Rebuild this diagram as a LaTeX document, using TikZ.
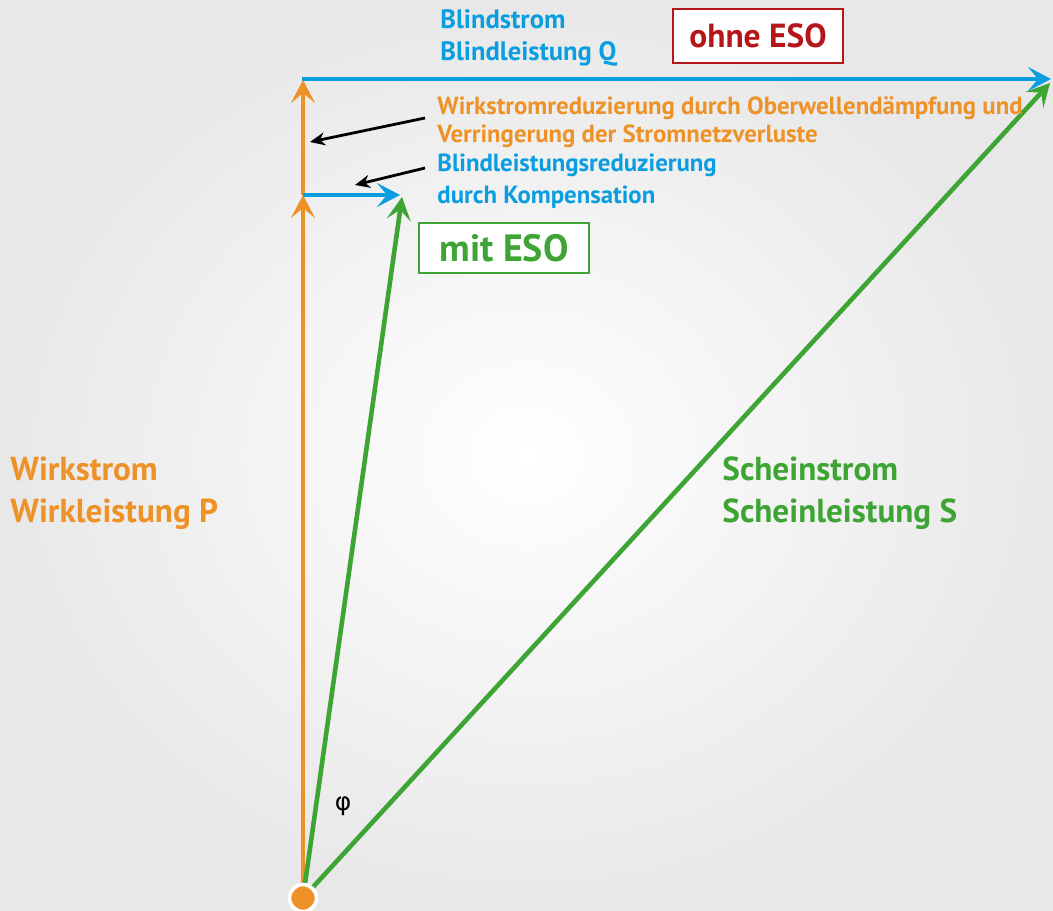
\documentclass[tikz,border=0pt]{standalone}
\usepackage{fontspec}
\setmainfont{PT Sans}
\newfontfamily\greekfont{DejaVu Sans}
\definecolor{wirkorange}{RGB}{238, 146, 40}
\definecolor{blindblue}{RGB}{10, 157, 224}
\definecolor{scheingreen}{RGB}{62, 165, 53}
\definecolor{ohnered}{RGB}{181, 22, 27}
\usetikzlibrary{arrows.meta, positioning, shadings}

\begin{document}
\begin{tikzpicture}[x=0.5pt, y=-0.5pt,
    vec/.style={line width=2.3pt, -{Stealth[length=11.5pt, width=12pt, inset=5pt]}},
    hint/.style={line width=1.4pt, -{Stealth[length=7.5pt, width=6.5pt]}},
    lbl/.style={font=\bfseries\fontsize{16.6}{20}\selectfont, anchor=west, inner sep=0pt},
    small/.style={font=\bfseries\fontsize{12.4}{14}\selectfont, anchor=west, inner sep=0pt}]
    \useasboundingbox (0,0) rectangle (1053,910);
    \shade[inner color=white, outer color=black!9] (0,0) rectangle (1053,910);
    \coordinate (O) at (303,898);
    \coordinate (P1) at (303,195);
    \coordinate (P2) at (303,80);
    \coordinate (Qend) at (1051,79);
    \coordinate (K) at (400,195);
    \coordinate (S1) at (402,197);
    \coordinate (S2) at (1050,83);
    \draw[vec, wirkorange] (O) -- (P1);
    \draw[vec, wirkorange] (P1) -- (P2);
    \draw[vec, blindblue] (302,79) -- (Qend);
    \draw[vec, blindblue] (P1) -- (K);
    \draw[vec, scheingreen] (O) -- (S1);
    \draw[vec, scheingreen] (O) -- (S2);
    \node[circle, fill=wirkorange, draw=white, line width=1.8pt, minimum size=13.5pt, inner sep=0pt] (dot) at (O) {};
    \node[lbl, blindblue, align=left, font=\bfseries\fontsize{13.3}{16}\selectfont] (blind) at (440,38) {Blindstrom\\Blindleistung Q};
    \node[draw=ohnered, line width=0.8pt, fill=white, minimum width=85pt, minimum height=27pt, text=ohnered,
          font=\bfseries\fontsize{16.7}{18}\selectfont] (ohne) at (758,36) {ohne ESO};
    \node[small, wirkorange, align=left] (wred) at (437,122) {Wirkstromreduzierung durch Oberwellendämpfung und\\Verringerung der Stromnetzverluste};
    \node[small, blindblue] (bred1) at (437,165) {Blindleistungsreduzierung};
    \node[small, blindblue] (bred2) at (437,197) {durch Kompensation};
    \node[draw=scheingreen, line width=0.8pt, fill=white, minimum width=85pt, minimum height=25pt, text=scheingreen,
          font=\bfseries\fontsize{19}{21}\selectfont] (mit) at (504,248) {mit ESO};
    \node[lbl, wirkorange, align=left] (wirk) at (10,493) {Wirkstrom\\[1pt]Wirkleistung P};
    \node[lbl, scheingreen, align=left] (schein) at (722,493) {Scheinstrom\\[1pt]Scheinleistung S};
    \node[font=\greekfont\fontsize{12.5}{14}\selectfont] (phi) at (343,806) {φ};
    \coordinate (h1) at (425,118);
    \coordinate (h2) at (425,168);
    \draw[hint] (h1) -- (310,142);
    \draw[hint] (h2) -- (355,185);
\end{tikzpicture}
\end{document}
